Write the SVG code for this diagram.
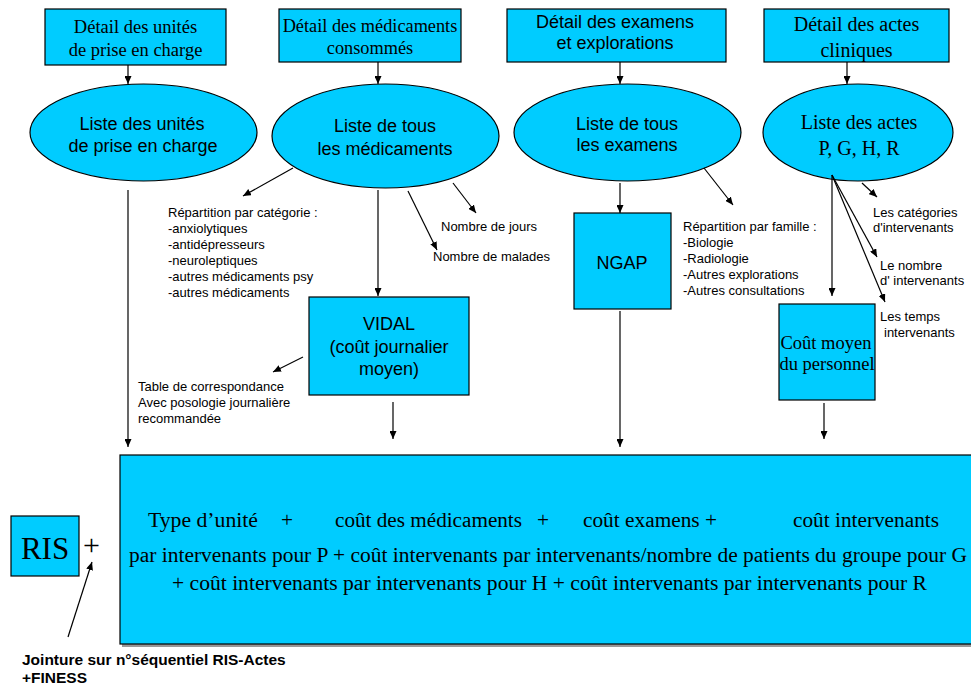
<svg xmlns="http://www.w3.org/2000/svg" width="971" height="688" viewBox="0 0 971 688">
<defs>
<marker id="ah" markerWidth="8" markerHeight="7" refX="8" refY="3.5" orient="auto" markerUnits="userSpaceOnUse">
<path d="M0,0 L8,3.5 L0,7 z" fill="#000"/>
</marker>
<style>
.bx{fill:#00CCFF;stroke:#000;stroke-width:1.2}
.sh{fill:#999}
.serif{font-family:"Liberation Serif","Times New Roman",serif;fill:#000}
.sans{font-family:"Liberation Sans",Arial,sans-serif;fill:#000}
.c{text-anchor:middle}
.sm{font-size:13px}
.ln{stroke:#000;stroke-width:1.2;fill:none;marker-end:url(#ah)}
.pre{white-space:pre}
</style>
</defs>
<rect width="971" height="688" fill="#fff"/>

<g id="box-unites">
<rect class="bx" x="45" y="9" width="181" height="56"/>
<text class="serif c" font-size="18.5" x="135.5" y="33">Détail des unités</text>
<text class="serif c" font-size="18.5" x="135.5" y="56">de prise en charge</text>
</g>
<g id="box-medicaments">
<rect class="bx" x="279" y="9" width="182" height="53"/>
<text class="serif c" font-size="18.3" x="370" y="32">Détail des médicaments</text>
<text class="serif c" font-size="18.3" x="370" y="54">consommés</text>
</g>
<g id="box-examens">
<rect class="bx" x="507" y="9" width="219" height="53"/>
<text class="sans c" font-size="18" x="615" y="28">Détail des examens</text>
<text class="sans c" font-size="18" x="615" y="49">et explorations</text>
</g>
<g id="box-actes">
<rect class="bx" x="764" y="9" width="185" height="53"/>
<text class="serif c" font-size="20" x="856.5" y="31">Détail des actes</text>
<text class="serif c" font-size="20" x="856.5" y="57">cliniques</text>
</g>

<g id="ell-unites">
<ellipse class="bx" cx="143.5" cy="132.5" rx="113.5" ry="48.5"/>
<text class="sans c" font-size="18" x="142" y="130">Liste des unités</text>
<text class="sans c" font-size="18" x="143" y="152">de prise en charge</text>
</g>
<g id="ell-medicaments">
<ellipse class="bx" cx="385.5" cy="136" rx="113.5" ry="52"/>
<text class="sans c" font-size="18" x="385" y="132">Liste de tous</text>
<text class="sans c" font-size="18" x="385" y="155">les médicaments</text>
</g>
<g id="ell-examens">
<ellipse class="bx" cx="627.5" cy="132.5" rx="113.5" ry="48.5"/>
<text class="sans c" font-size="18" x="627" y="130">Liste de tous</text>
<text class="sans c" font-size="18" x="627" y="151">les examens</text>
</g>
<g id="ell-actes">
<ellipse class="bx" cx="858" cy="132.5" rx="95" ry="48.5"/>
<text class="serif c" font-size="20" x="859" y="129">Liste des actes</text>
<text class="serif c" font-size="20" x="859" y="155">P, G, H, R</text>
</g>

<g id="vidal">
<rect class="bx" x="309" y="297" width="160" height="98"/>
<text class="sans c" font-size="18" x="389" y="330">VIDAL</text>
<text class="sans c" font-size="18" x="389" y="353">(coût journalier</text>
<text class="sans c" font-size="18" x="389" y="375">moyen)</text>
</g>
<g id="ngap">
<rect class="bx" x="574" y="213" width="97" height="96"/>
<text class="sans c" font-size="18" x="622" y="269">NGAP</text>
</g>
<g id="cout-personnel">
<rect class="bx" x="779" y="304" width="96" height="96"/>
<text class="serif c" font-size="18.5" x="826" y="349">Coût moyen</text>
<text class="serif c" font-size="18.5" x="827" y="370">du personnel</text>
</g>

<g id="total">
<rect class="sh" x="122" y="457" width="850" height="190"/>
<rect class="bx" x="120" y="455" width="852" height="189"/>
<g class="serif pre" font-size="21.3">
<text x="148" y="527" textLength="110" lengthAdjust="spacingAndGlyphs">Type d’unité</text>
<text x="281" y="527">+</text>
<text x="335" y="527" textLength="187" lengthAdjust="spacingAndGlyphs">coût des médicaments</text>
<text x="537" y="527">+</text>
<text x="583" y="527" textLength="134" lengthAdjust="spacingAndGlyphs">coût examens +</text>
<text x="793" y="527" textLength="146" lengthAdjust="spacingAndGlyphs">coût intervenants</text>
<text x="129" y="562" textLength="838" lengthAdjust="spacingAndGlyphs">par intervenants pour P + coût intervenants par intervenants/nombre de patients du groupe pour G</text>
<text x="172" y="590" textLength="755" lengthAdjust="spacingAndGlyphs">+ coût intervenants par intervenants pour H +  coût intervenants par intervenants pour R</text>
</g>
</g>

<g id="ris">
<rect class="bx" x="11" y="516" width="68" height="60"/>
<text class="serif c" font-size="31" x="45" y="559">RIS</text>
<text class="serif" font-size="30" x="83" y="555">+</text>
</g>

<g id="labels">
<g class="sans sm">
<text x="168" y="217">Répartition par catégorie :</text>
<text x="168" y="233">-anxiolytiques</text>
<text x="168" y="249">-antidépresseurs</text>
<text x="168" y="265">-neuroleptiques</text>
<text x="168" y="281">-autres médicaments psy</text>
<text x="168" y="297">-autres médicaments</text>
<text x="441" y="231">Nombre de jours</text>
<text x="433" y="261">Nombre de malades</text>
<text x="138" y="391">Table de correspondance</text>
<text x="138" y="407">Avec posologie journalière</text>
<text x="138" y="423">recommandée</text>
<text x="683" y="231">Répartition par famille :</text>
<text x="683" y="247">-Biologie</text>
<text x="683" y="263">-Radiologie</text>
<text x="683" y="279">-Autres explorations</text>
<text x="683" y="295">-Autres consultations</text>
<text x="873" y="217">Les catégories</text>
<text x="873" y="232">d'intervenants</text>
<text x="880" y="270">Le nombre</text>
<text x="880" y="285">d' intervenants</text>
<text x="880" y="321">Les temps</text>
<text x="884" y="337">intervenants</text>
</g>
<text class="sans" font-size="15.5" font-weight="bold" x="22" y="665">Jointure sur n°séquentiel RIS-Actes</text>
<text class="sans" font-size="15.5" font-weight="bold" x="22" y="683">+FINESS</text>
</g>

<g id="connectors">
<line class="ln" x1="128" y1="65" x2="128" y2="84"/>
<line class="ln" x1="378" y1="62" x2="378" y2="84"/>
<line class="ln" x1="620" y1="62" x2="620" y2="84"/>
<line class="ln" x1="847" y1="62" x2="847" y2="84"/>
<line class="ln" x1="128" y1="190" x2="128" y2="447"/>
<line class="ln" x1="293" y1="168" x2="243" y2="196"/>
<line class="ln" x1="378" y1="190" x2="378" y2="296"/>
<line class="ln" x1="408" y1="191" x2="437" y2="250"/>
<line class="ln" x1="453" y1="183" x2="476" y2="213"/>
<line class="ln" x1="303" y1="357" x2="273" y2="372"/>
<line class="ln" x1="393" y1="402" x2="393" y2="439"/>
<line class="ln" x1="620" y1="183" x2="620" y2="213"/>
<line class="ln" x1="704" y1="168" x2="733" y2="205"/>
<line class="ln" x1="620" y1="311" x2="620" y2="447"/>
<line class="ln" x1="832" y1="175" x2="832" y2="296"/>
<line class="ln" x1="832" y1="175" x2="877" y2="257"/>
<line class="ln" x1="832" y1="175" x2="885" y2="302"/>
<line class="ln" x1="862" y1="183" x2="877" y2="197"/>
<line class="ln" x1="824" y1="403" x2="824" y2="439"/>
<line class="ln" x1="68" y1="637" x2="92" y2="562"/>
</g>
</svg>
